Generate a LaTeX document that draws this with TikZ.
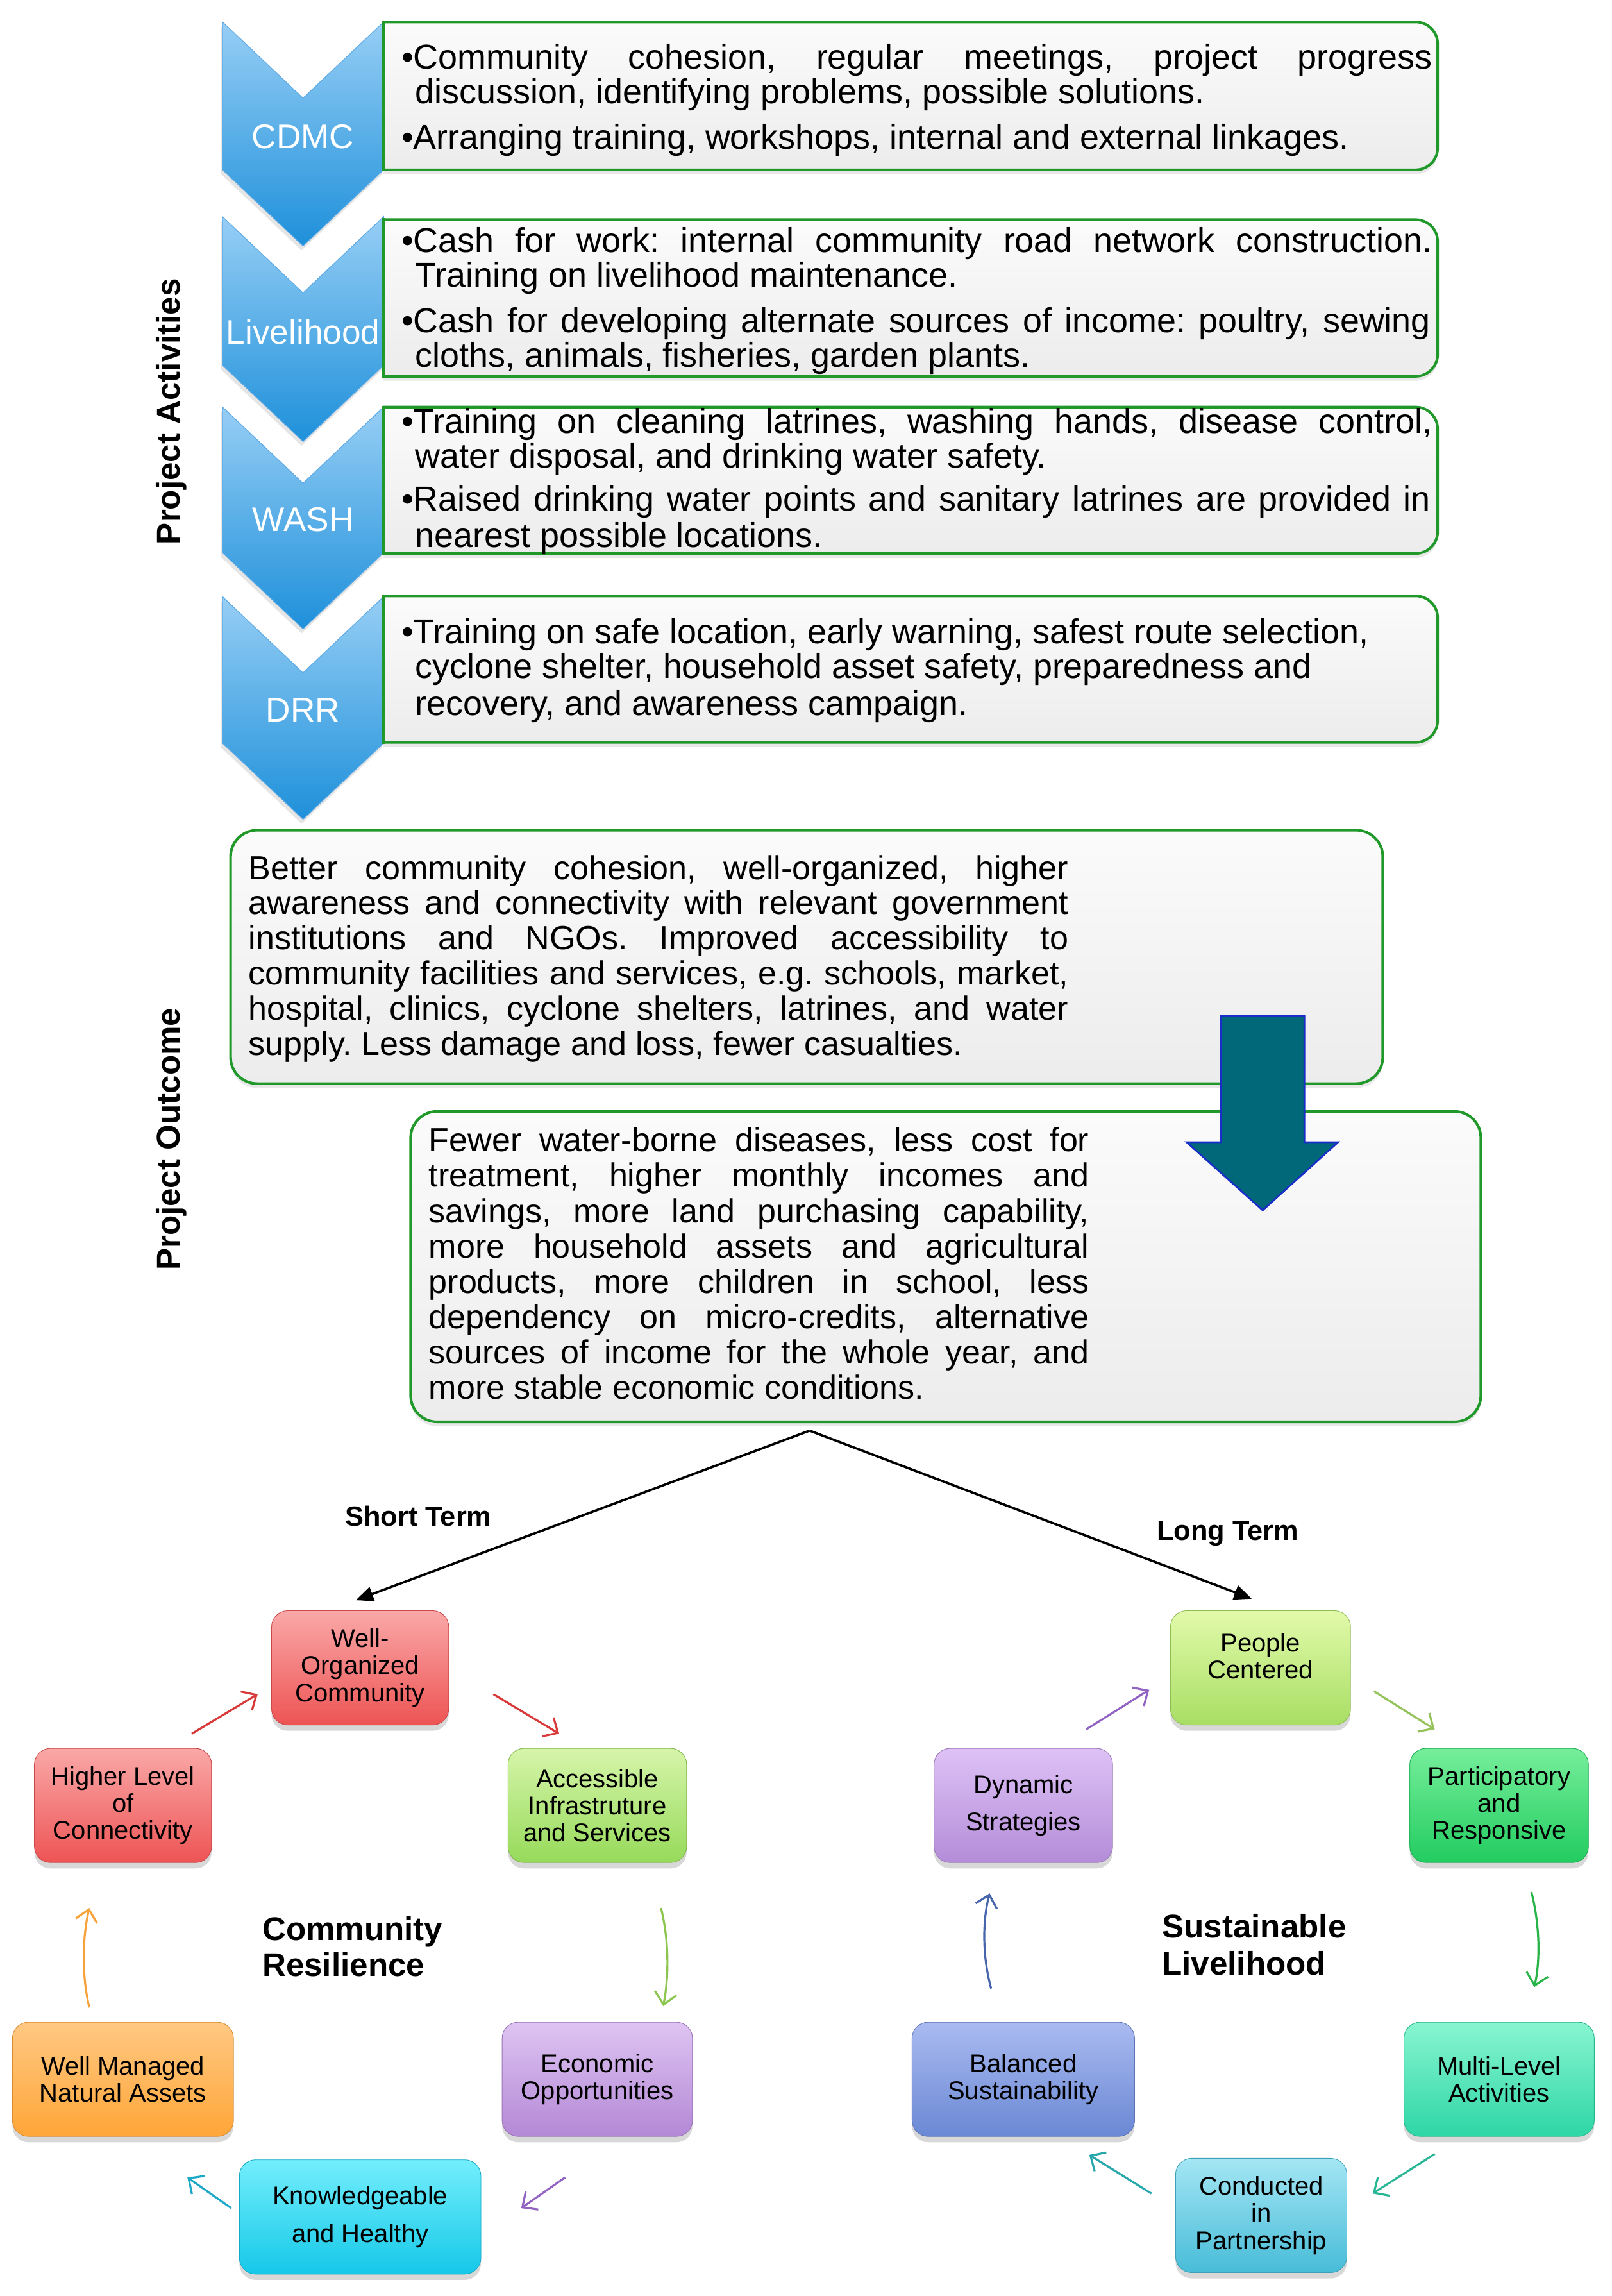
\documentclass[tikz,border=0pt]{standalone}
\usepackage{fontspec}
\setmainfont{Liberation Sans}
\usetikzlibrary{arrows.meta,shadows}
\frenchspacing
\definecolor{boxgreen}{RGB}{32,152,42}
\definecolor{boxtop}{RGB}{251,251,251}
\definecolor{boxbot}{RGB}{236,236,236}
\definecolor{chevtop}{RGB}{150,206,245}
\definecolor{chevbot}{RGB}{30,144,218}
\definecolor{chevedge}{RGB}{95,170,228}
\definecolor{tealfill}{RGB}{0,104,120}
\definecolor{tealedge}{RGB}{25,45,200}
% cycle colours
\definecolor{redT}{RGB}{250,168,168}\definecolor{redB}{RGB}{238,84,84}
\definecolor{grnT}{RGB}{214,245,170}\definecolor{grnB}{RGB}{150,218,90}
\definecolor{purT}{RGB}{222,196,242}\definecolor{purB}{RGB}{180,136,214}
\definecolor{cyaT}{RGB}{115,238,252}\definecolor{cyaB}{RGB}{22,200,232}
\definecolor{oraT}{RGB}{255,200,130}\definecolor{oraB}{RGB}{255,166,56}
\definecolor{lgrT}{RGB}{226,250,170}\definecolor{lgrB}{RGB}{168,222,100}
\definecolor{dgrT}{RGB}{118,238,155}\definecolor{dgrB}{RGB}{34,204,96}
\definecolor{mltT}{RGB}{136,245,208}\definecolor{mltB}{RGB}{46,214,166}
\definecolor{lbuT}{RGB}{164,230,244}\definecolor{lbuB}{RGB}{72,188,216}
\definecolor{bluT}{RGB}{170,186,240}\definecolor{bluB}{RGB}{106,136,212}
\definecolor{dynT}{RGB}{222,194,246}\definecolor{dynB}{RGB}{180,140,216}
% arrow colours
\definecolor{aRed}{RGB}{216,58,58}
\definecolor{aGrn}{RGB}{140,198,80}
\definecolor{aPur}{RGB}{145,100,196}
\definecolor{aCya}{RGB}{30,168,200}
\definecolor{aOra}{RGB}{248,162,60}
\definecolor{aLgr}{RGB}{150,194,92}
\definecolor{aDgr}{RGB}{40,180,72}
\definecolor{aTl1}{RGB}{40,182,150}
\definecolor{aTl2}{RGB}{40,168,172}
\definecolor{aBlu}{RGB}{72,102,172}
\newcommand\topfont{\fontsize{23.6}{24}\selectfont}
\newcommand\outfont{\fontsize{22.8}{24}\selectfont}
\newcommand\cycfont{\fontsize{17.5}{18.5}\selectfont}
\newcommand\jst[2]{\makebox[#1pt][s]{#2}}
\newcommand\chevron[3]{%
  \path[chev] (152,#1) -- (207,#1+52) -- (262,#1) -- (262,#2) -- (207,#2+52) -- (152,#2) -- cycle;
  \node[chevlbl] (#3) at (207,#2-14.5) {#3};}
\newcommand\gbox[2]{%
  \path[gfill, rounded corners=15pt] (262,#1) -- (982,#1) -- (982,#2) -- (262,#2);
  \draw[gline, rounded corners=15pt] (262,#1) -- (982,#1) -- (982,#2) -- (262,#2);
  \draw[gline, line cap=rect] (262,#1) -- (262,#2);}
\newcommand\tl[4]{\node[tline] (#1) at (#2,#3) {#4};}
\newcommand\ol[4]{\node[oline] (#1) at (#2,#3) {#4};}
\begin{document}
\begin{tikzpicture}[x=1pt,y=-1pt,
  chev/.style={top color=chevtop, bottom color=chevbot, draw=chevedge, line width=0.5pt,
     drop shadow={shadow xshift=-1pt,shadow yshift=-3pt,opacity=0.2}},
  chevlbl/.style={anchor=base, inner sep=0pt, text=white, font=\fontsize{23.3}{24}\selectfont},
  gfill/.style={top color=boxtop, bottom color=boxbot,
     drop shadow={shadow xshift=0pt,shadow yshift=-3pt,opacity=0.18}},
  gline/.style={draw=boxgreen, line width=1.8pt},
  obox/.style={rectangle, rounded corners=18pt, draw=boxgreen, line width=1.8pt,
     top color=boxtop, bottom color=boxbot, inner sep=0pt,
     drop shadow={shadow xshift=0pt,shadow yshift=-3pt,opacity=0.18}},
  tline/.style={anchor=base west, inner sep=0pt, font=\topfont},
  oline/.style={anchor=base west, inner sep=0pt, font=\outfont},
  cyc/.style 2 args={rectangle, rounded corners=11pt, top color=#1, bottom color=#2,
     draw=#2!85!black, line width=0.4pt, inner sep=0pt, align=center, font=\cycfont,
     minimum height=78pt,
     drop shadow={shadow xshift=0pt,shadow yshift=-4pt,opacity=0.3}},
  carr/.style={draw=#1, line width=1.4pt, -{Straight Barb[length=8pt,width=15pt]}},
  blk/.style={draw=black, line width=1.6pt, -{Triangle[length=12pt,width=10pt]}},
  lbl/.style={anchor=base west, inner sep=0pt, font=\fontsize{19}{20}\selectfont\bfseries},
  big/.style={anchor=base west, inner sep=0pt, font=\fontsize{22.4}{24}\selectfont\bfseries},
  rot/.style={rotate=90, inner sep=0pt, font=\fontsize{22.4}{24}\selectfont\bfseries}
]
\useasboundingbox (0,0) rectangle (1101,1568);
\fill[white] (0,0) rectangle (1101,1568);

% ---------- chevrons ----------
\chevron{15}{116}{CDMC}
\chevron{148}{249.5}{Livelihood}
\chevron{278}{377.5}{WASH}
\chevron{407.5}{507.5}{DRR}

% ---------- activity boxes ----------
\gbox{15}{116}
\gbox{150}{257}
\gbox{278}{378}
\gbox{407}{507}

\tl{a1}{274}{47.2}{\jst{704}{•Community cohesion, regular meetings, project progress}}
\tl{a2}{283.5}{70.8}{discussion, identifying problems, possible solutions.}
\tl{a3}{274}{101.8}{•Arranging training, workshops, internal and external linkages.}

\tl{b1}{274}{172.5}{\jst{704}{•Cash for work: internal community road network construction.}}
\tl{b2}{283.5}{196}{Training on livelihood maintenance.}
\tl{b3}{274}{227}{\jst{703}{•Cash for developing alternate sources of income: poultry, sewing}}
\tl{b4}{283.5}{250.7}{cloths, animals, fisheries, garden plants.}

\tl{c1}{274}{296}{\jst{704}{•Training on cleaning latrines, washing hands, disease control,}}
\tl{c2}{283.5}{319.7}{water disposal, and drinking water safety.}
\tl{c3}{274}{348.7}{\jst{703}{•Raised drinking water points and sanitary latrines are provided in}}
\tl{c4}{283.5}{374}{nearest possible locations.}

\tl{d1}{274}{439.5}{•Training on safe location, early warning, safest route selection,}
\tl{d2}{283.5}{463}{cyclone shelter, household asset safety, preparedness and}
\tl{d3}{283.5}{488.6}{recovery, and awareness campaign.}

% ---------- side labels ----------
\node[rot] (pa) at (117,281) {Project Activities};
\node[rot] (po) at (117,778) {Project Outcome};

% ---------- outcome boxes ----------
\node[obox, minimum width=787pt, minimum height=173pt] (o1) at (551,653.5) {};
\node[obox, minimum width=731pt, minimum height=212pt] (o2) at (646,865) {};

\ol{e1}{169.6}{600.5}{\jst{560}{Better community cohesion, well-organized, higher}}
\ol{e2}{169.6}{624.5}{\jst{560}{awareness and connectivity with relevant government}}
\ol{e3}{169.6}{648.5}{\jst{560}{institutions and NGOs. Improved accessibility to}}
\ol{e4}{169.6}{672.5}{\jst{560}{community facilities and services, e.g. schools, market,}}
\ol{e5}{169.6}{696.5}{\jst{560}{hospital, clinics, cyclone shelters, latrines, and water}}
\ol{e6}{169.6}{720.5}{supply. Less damage and loss, fewer casualties.}

\ol{f1}{292.7}{786.5}{\jst{451}{Fewer water-borne diseases, less cost for}}
\ol{f2}{292.7}{810.6}{\jst{451}{treatment, higher monthly incomes and}}
\ol{f3}{292.7}{834.8}{\jst{451}{savings, more land purchasing capability,}}
\ol{f4}{292.7}{859}{\jst{451}{more household assets and agricultural}}
\ol{f5}{292.7}{883.1}{\jst{451}{products, more children in school, less}}
\ol{f6}{292.7}{907.3}{\jst{451}{dependency on micro-credits, alternative}}
\ol{f7}{292.7}{931.4}{\jst{451}{sources of income for the whole year, and}}
\ol{f8}{292.7}{955.6}{more stable economic conditions.}

% ---------- big teal arrow ----------
\filldraw[fill=tealfill, draw=tealedge, line width=1.2pt, line join=miter]
  (834,694) -- (891,694) -- (891,780) -- (914,780) -- (862.5,826.5) -- (810.5,780) -- (834,780) -- cycle;

% ---------- cycle nodes: community resilience ----------
\node[cyc={redT}{redB}, minimum width=121pt] (wo) at (246,1139) {Well-\\Organized\\Community};
\node[cyc={grnT}{grnB}, minimum width=122pt] (ai) at (408,1233) {Accessible\\Infrastruture\\and Services};
\node[cyc={purT}{purB}, minimum width=130pt] (eo) at (408,1420) {Economic\\Opportunities};
\node[cyc={cyaT}{cyaB}, minimum width=165pt] (kh) at (246,1514) {Knowledgeable\\[7pt]and Healthy};
\node[cyc={oraT}{oraB}, minimum width=151pt] (wm) at (84,1420) {Well Managed\\Natural Assets};
\node[cyc={redT}{redB}, minimum width=121pt] (hl) at (84,1233) {Higher Level\\of\\Connectivity};

% ---------- cycle nodes: sustainable livelihood ----------
\node[cyc={lgrT}{lgrB}, minimum width=123pt] (pc) at (861,1139) {People\\Centered\\[-2pt]\mbox{}};
\node[cyc={dgrT}{dgrB}, minimum width=122pt] (pr) at (1024,1233) {Participatory\\and\\Responsive};
\node[cyc={mltT}{mltB}, minimum width=130pt] (ml) at (1024,1420) {Multi-Level\\Activities};
\node[cyc={lbuT}{lbuB}, minimum width=117pt] (cp) at (861.5,1513) {Conducted\\in\\Partnership};
\node[cyc={bluT}{bluB}, minimum width=152pt] (bs) at (699,1420) {Balanced\\Sustainability};
\node[cyc={dynT}{dynB}, minimum width=122pt] (ds) at (699,1233) {Dynamic\\[7pt]Strategies};

% ---------- labels ----------
\node[lbl] (st) at (235.6,1042) {Short Term};
\node[lbl] (lt) at (790,1052) {Long Term};
\node[big] (cr1) at (179,1325) {Community};
\node[big] (cr2) at (179,1349.5) {Resilience};
\node[big] (sl1) at (793.6,1323.3) {Sustainable};
\node[big] (sl2) at (793.6,1348.7) {Livelihood};

% ---------- black connectors ----------
\coordinate (apex) at (553,977);
\draw[blk] (apex) -- ([xshift=-3pt,yshift=7pt]wo.north);
\draw[blk] (apex) -- ([xshift=-6pt,yshift=8pt]pc.north);

% ---------- cycle arrows (left) ----------
\coordinate (r1a) at (131,1184); \coordinate (r1b) at (176,1157);
\coordinate (r2a) at (337,1157); \coordinate (r2b) at (382,1184);
\coordinate (g1a) at (451.5,1303); \coordinate (g1b) at (453,1370);
\coordinate (p1a) at (386,1487); \coordinate (p1b) at (356,1508);
\coordinate (c1a) at (158,1508); \coordinate (c1b) at (128,1487);
\coordinate (o1a) at (61,1371); \coordinate (o1b) at (61,1303);
\draw[carr=aRed] (r1a) -- (r1b);
\draw[carr=aRed] (r2a) -- (r2b);
\draw[carr=aGrn] (g1a) .. controls (457,1325) and (457,1350) .. (g1b);
\draw[carr=aPur] (p1a) -- (p1b);
\draw[carr=aCya] (c1a) -- (c1b);
\draw[carr=aOra] (o1a) .. controls (56,1350) and (56,1325) .. (o1b);

% ---------- cycle arrows (right) ----------
\coordinate (p2a) at (742,1181); \coordinate (p2b) at (785,1154);
\coordinate (l2a) at (938.5,1155); \coordinate (l2b) at (980,1181);
\coordinate (g2a) at (1046,1292); \coordinate (g2b) at (1048,1357);
\coordinate (t1a) at (980,1471); \coordinate (t1b) at (937.6,1498);
\coordinate (t2a) at (786.5,1498); \coordinate (t2b) at (744,1471.6);
\coordinate (b1a) at (677,1358); \coordinate (b1b) at (676,1293);
\draw[carr=aPur] (p2a) -- (p2b);
\draw[carr=aLgr] (l2a) -- (l2b);
\draw[carr=aDgr] (g2a) .. controls (1052,1315) and (1052,1340) .. (g2b);
\draw[carr=aTl1] (t1a) -- (t1b);
\draw[carr=aTl2] (t2a) -- (t2b);
\draw[carr=aBlu] (b1a) .. controls (671,1336) and (671,1312) .. (b1b);
\end{tikzpicture}
\end{document}
